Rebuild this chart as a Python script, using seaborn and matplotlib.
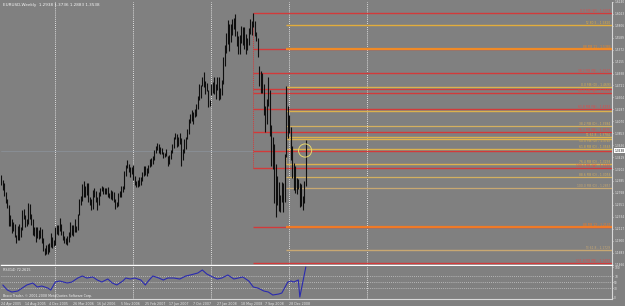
import matplotlib
matplotlib.use("Agg")
import matplotlib.pyplot as plt
import matplotlib.transforms as mtransforms
import numpy as np
import pandas as pd
import seaborn as sns

# ---------------- data (weekly EURUSD, 24 Apr 2005 .. 15 Mar 2009) ----------------
high_2005 = [1.3090, 1.3000, 1.2950, 1.2780, 1.2650, 1.2540, 1.2360, 1.2300, 1.2240, 1.2200,
             1.2000, 1.2170, 1.2210, 1.2140, 1.2450, 1.2470, 1.2370, 1.2300, 1.2586, 1.2560,
             1.2380, 1.2300, 1.2150, 1.2140, 1.2150, 1.2100, 1.2140, 1.2120, 1.1950, 1.1770,
             1.1820, 1.1840, 1.1850, 1.2030, 1.1960, 1.1910]
low_2005 = [1.2920, 1.2820, 1.2720, 1.2580, 1.2500, 1.2160, 1.2170, 1.2030, 1.2080, 1.1960,
            1.1866, 1.1920, 1.1920, 1.1960, 1.2100, 1.2290, 1.2140, 1.2170, 1.2210, 1.2300,
            1.2190, 1.2010, 1.1990, 1.1880, 1.1940, 1.1930, 1.1950, 1.1860, 1.1710, 1.1640,
            1.1660, 1.1650, 1.1700, 1.1780, 1.1760, 1.1800]
high_2006 = [1.2150, 1.2180, 1.2190, 1.2320, 1.2210, 1.2080, 1.1980, 1.1940, 1.1990, 1.2050,
             1.2240, 1.2190, 1.2180, 1.2300, 1.2160, 1.2380, 1.2650, 1.2720, 1.2930, 1.2979,
             1.2900, 1.2940, 1.2950, 1.2690, 1.2660, 1.2820, 1.2860, 1.2800, 1.2700, 1.2780,
             1.2860, 1.2900, 1.2880, 1.2850, 1.2860, 1.2880, 1.2760, 1.2820, 1.2800, 1.2780,
             1.2650, 1.2600, 1.2760, 1.2800, 1.2900, 1.2890, 1.3170, 1.3270, 1.3367, 1.3300,
             1.3230, 1.3240, 1.3280]
low_2006 = [1.1820, 1.2020, 1.2000, 1.2070, 1.2010, 1.1910, 1.1850, 1.1840, 1.1820, 1.1880,
            1.1970, 1.2000, 1.1980, 1.2060, 1.2060, 1.2100, 1.2370, 1.2550, 1.2620, 1.2700,
            1.2690, 1.2730, 1.2600, 1.2540, 1.2450, 1.2480, 1.2700, 1.2600, 1.2460, 1.2550,
            1.2710, 1.2800, 1.2750, 1.2740, 1.2740, 1.2700, 1.2670, 1.2660, 1.2640, 1.2600,
            1.2480, 1.2520, 1.2530, 1.2700, 1.2690, 1.2780, 1.2830, 1.3080, 1.3220, 1.3140,
            1.3060, 1.3110, 1.3010]
high_2007 = [1.3070, 1.2990, 1.3000, 1.3050, 1.3060, 1.3150, 1.3250, 1.3260, 1.3220, 1.3280,
             1.3380, 1.3400, 1.3440, 1.3550, 1.3620, 1.3680, 1.3660, 1.3600, 1.3580, 1.3520,
             1.3500, 1.3560, 1.3440, 1.3450, 1.3540, 1.3650, 1.3780, 1.3850, 1.3840, 1.3790,
             1.3850, 1.3760, 1.3560, 1.3750, 1.3790, 1.3930, 1.4120, 1.4210, 1.4280, 1.4230,
             1.4300, 1.4380, 1.4530, 1.4750, 1.4730, 1.4880, 1.4966, 1.4800, 1.4760, 1.4640,
             1.4450, 1.4750]
low_2007 = [1.2920, 1.2870, 1.2880, 1.2900, 1.2920, 1.2980, 1.3080, 1.3100, 1.3080, 1.3130,
            1.3230, 1.3250, 1.3300, 1.3370, 1.3500, 1.3540, 1.3500, 1.3470, 1.3480, 1.3410,
            1.3420, 1.3430, 1.3260, 1.3300, 1.3380, 1.3500, 1.3590, 1.3740, 1.3610, 1.3620,
            1.3650, 1.3261, 1.3370, 1.3500, 1.3570, 1.3740, 1.3840, 1.4040, 1.4070, 1.4020,
            1.4140, 1.4170, 1.4290, 1.4450, 1.4500, 1.4710, 1.4700, 1.4560, 1.4620, 1.4330,
            1.4340, 1.4550]
high_2008 = [1.4780, 1.4880, 1.4740, 1.4880, 1.4870, 1.4670, 1.4820, 1.5240, 1.5460, 1.5680,
             1.5903, 1.5840, 1.5840, 1.5920, 1.5940, 1.6018, 1.5710, 1.5620, 1.5630, 1.5800,
             1.5790, 1.5780, 1.5650, 1.5580, 1.5770, 1.5920, 1.5900, 1.6038, 1.5900, 1.5700,
             1.5590, 1.5080, 1.4980, 1.4940, 1.4740, 1.4350, 1.4470, 1.4870, 1.4640, 1.4000,
             1.3790, 1.3650, 1.3300, 1.3080, 1.2970, 1.2730, 1.2970, 1.2950, 1.3470, 1.4720,
             1.4350, 1.4180]
low_2008 = [1.4580, 1.4560, 1.4480, 1.4630, 1.4460, 1.4470, 1.4550, 1.4750, 1.5080, 1.5310,
            1.5480, 1.5350, 1.5510, 1.5640, 1.5750, 1.5620, 1.5440, 1.5300, 1.5300, 1.5490,
            1.5460, 1.5390, 1.5300, 1.5360, 1.5460, 1.5660, 1.5630, 1.5780, 1.5620, 1.5520,
            1.5230, 1.4720, 1.4580, 1.4580, 1.4190, 1.3880, 1.4020, 1.4340, 1.3810, 1.3260,
            1.3200, 1.2580, 1.2330, 1.2540, 1.2440, 1.2420, 1.2600, 1.2420, 1.2600, 1.3420,
            1.3770, 1.3850]
high_2009 = [1.3960, 1.3620, 1.3320, 1.3250, 1.3040, 1.3020, 1.2950, 1.2930, 1.2710, 1.2990, 1.3738]
low_2009 = [1.3360, 1.3040, 1.2820, 1.2770, 1.2740, 1.2840, 1.2510, 1.2530, 1.2457, 1.2580, 1.2885]

last_close = 1.3538

# indicator (week index, value)
rsi_week = [1, 4, 7, 11, 14, 17, 21, 24, 27, 31, 33, 36, 39, 44, 47, 51, 54, 57, 61, 64,
            67, 71, 74, 77, 81, 83, 86, 89, 93, 96, 98, 101, 105, 108, 111, 115, 119, 123, 126, 131,
            134, 137, 141, 144, 147, 151, 155, 158, 161, 165, 168, 171, 175, 178, 181, 185, 187, 191, 193, 195,
            198, 199, 203]
rsi_value = [41.0, 24.6, 18.0, 21.3, 31.1, 41.0, 47.5, 34.4, 37.7, 31.1, 24.6, 50.8, 54.1, 47.5, 50.8, 63.9, 70.5, 63.9, 67.2, 57.4,
             50.8, 60.7, 47.5, 41.0, 54.1, 63.9, 60.7, 63.9, 57.4, 41.0, 54.1, 70.5, 63.9, 57.4, 63.9, 63.9, 60.7, 70.5, 73.8, 80.3,
             90.2, 77.0, 67.2, 60.7, 63.9, 73.8, 60.7, 63.9, 67.2, 54.1, 34.4, 31.1, 21.3, 18.0, 8.2, 11.5, 14.8, 50.8, 54.1, 50.8,
             57.4, 1.6, 100.0]
rsi_levels = [70, 50, 30]
rsi_ticks = [100, 70, 50, 30, 0]

# Fibonacci levels (label "" = no label shown on the chart)
red_prices = [1.6038, 1.5384, 1.4947, 1.4656, 1.4584, 1.4293, 1.3875, 1.3529, 1.3220, 1.2147, 1.1493]
red_labels = ["0.0 FIB (W) - 1.6038", "", "38.2 FIB (W) - 1.4947",
              "", "50.0 FIB (W) - 1.4584", "61.8 FIB (W) - 1.4293",
              "76.4 FIB (W) - 1.3875", "", "100.0 FIB (W) - 1.3220",
              "", "161.8 FIB (W) - 1.1493"]
orange_prices = [1.5820, 1.5384, 1.4693, 1.4256, 1.3984, 1.3784, 1.3747, 1.3565, 1.3293,
                 1.3056, 1.2857, 1.2147, 1.1729]
orange_labels = ["T2 80.5 - 1.5820", "88 FIB 11 - 1.5384", "0.0 FIB (D) - 1.4693",
                 "", "38.2 FIB (D) - 1.3984", "T1 61.8 - 1.3784",
                 "50.0 FIB (D) - 1.3747", "61.8 FIB (D) - 1.3565", "76.4 FIB (D) - 1.3293",
                 "88.6 FIB (D) - 1.3056", "100.0 FIB (D) - 1.2857", "88 FIB 12 - 1.2147",
                 "T3 61.8 - 1.1729"]
orange_label_below = [False, False, False, False, False, False, True, False, False,
                      False, False, False, False]
orange_colors = ["#e2ad3c", "#f08a26", "#dcb24e", "#dcb24e", "#d4b060", "#dcb24e", "#dcb24e",
                 "#dcb24e", "#dcb24e", "#d4b060", "#c8a872", "#f07a26", "#c8a872"]
orange_widths = [1.0, 1.6, 1.0, 1.0, 0.9, 1.0, 1.0, 1.0, 1.0, 0.9, 0.9, 1.6, 1.0]

price_ticks = [1.6240, 1.6023, 1.5806, 1.5589, 1.5372, 1.5155, 1.4938, 1.4721, 1.4504, 1.4287,
               1.4070, 1.3853, 1.3636, 1.3419, 1.3202, 1.2985, 1.2768, 1.2551, 1.2334, 1.2117,
               1.1900, 1.1683, 1.1466]
date_ticks = [0, 16, 32, 48, 64, 80, 96, 112, 128, 144, 160, 176, 192]
date_labels = ["24 Apr 2005", "14 Aug 2005", "4 Dec 2005", "26 Mar 2006", "16 Jul 2006",
               "5 Nov 2006", "25 Feb 2007", "17 Jun 2007", "7 Oct 2007", "27 Jan 2008",
               "18 May 2008", "7 Sep 2008", "28 Dec 2008"]
year_weeks = [36, 88, 140, 192, 244]

red_start = 167.5
orange_start = 189.5

# ---------------- drawing ----------------
W, H = 625, 306
BG = "#808080"
sns.set_theme(style="dark", rc={"axes.facecolor": BG, "figure.facecolor": BG,
                                "axes.grid": False})
plt.rcParams['font.family'] = ['DejaVu Sans']

fig = plt.figure(figsize=(W / 100, H / 100), dpi=100)


def px_axes(l, t, r, b):
    return fig.add_axes([l / W, 1 - b / H, (r - l) / W, (b - t) / H])


ax = px_axes(1, 1.5, 612, 265)
ax2 = px_axes(1, 266, 612, 299)

XMIN, XMAX = -0.2, 407.1

high = high_2005 + high_2006 + high_2007 + high_2008 + high_2009
low = low_2005 + low_2006 + low_2007 + low_2008 + low_2009
df = pd.DataFrame({"week": np.arange(len(high)), "high": high, "low": low})

# year separators
for a in (ax, ax2):
    for w in year_weeks:
        a.axvline(w, color="white", lw=0.6, ls=(0, (1, 1.5)), zorder=1)

# bid line
ax.axhline(last_close, color="#8c949c", lw=0.5, zorder=1)

# price bars
ax.vlines(df["week"], df["low"], df["high"], color="#0e0e0e", lw=0.8, zorder=3)

# fib lines
ax.vlines(red_start, red_prices[8], red_prices[0], color="#d23a3a", lw=0.7, ls=(0, (1, 1)), zorder=2)
ax.vlines(orange_start + 0.5, orange_prices[8], orange_prices[2], color="#d4b060", lw=0.7,
          ls=(0, (1, 1)), zorder=2)
for p, lab in zip(red_prices, red_labels):
    ax.hlines(p, red_start, XMAX, color="#d23a3a", lw=1.0, zorder=2)
    if lab:
        ax.text(406, p, lab, ha="right", va="bottom", fontsize=2.2, color="#e04848", zorder=5)
for p, lab, c, w, below in zip(orange_prices, orange_labels, orange_colors, orange_widths,
                               orange_label_below):
    ax.hlines(p, orange_start, XMAX, color=c, lw=w, zorder=2)
    if lab:
        ax.text(406, p, lab, ha="right", va="top" if below else "bottom", fontsize=2.2,
                color=c, zorder=5)

# circle around last price
ax.scatter([202.5], [last_close], s=90, facecolors="none", edgecolors="#e8d86a", lw=0.7, zorder=6)

ax.set_xlim(XMIN, XMAX)
ax.set_ylim(1.1457, 1.6247)
ax.set_xticks([])
ax.yaxis.tick_right()
ax.set_yticks(price_ticks)
ax.set_yticklabels([f"{t:.4f}" for t in price_ticks])
ax.tick_params(axis="y", colors="#e8e8e8", labelsize=2.1, length=1.0, width=0.5, pad=0.6)
for s in ("top", "left"):
    ax.spines[s].set_visible(False)
ax.spines["right"].set_color("#d8d8d8")
ax.spines["right"].set_linewidth(0.8)
ax.spines["bottom"].set_color("white")
ax.spines["bottom"].set_linewidth(1.0)

# current price box
tr = mtransforms.blended_transform_factory(ax.transAxes, ax.transData)
ax.text(1.004, last_close, f"{last_close:.4f}", transform=tr, fontsize=2.1, color="black",
        ha="left", va="center", clip_on=False,
        bbox=dict(boxstyle="square,pad=0.2", fc="white", ec="none"), zorder=7)

# indicator
for lv in rsi_levels:
    ax2.axhline(lv, color="#c8c8c8", lw=0.6, ls=(0, (1, 1.5)), zorder=1)
rsi_df = pd.DataFrame({"week": rsi_week, "rsi": rsi_value})
sns.lineplot(data=rsi_df, x="week", y="rsi", ax=ax2, color="#2a2ab0", lw=0.8, zorder=3)
ax2.set_xlim(XMIN, XMAX)
ax2.set_ylim(-4.9, 103.3)
ax2.set_xlabel("")
ax2.set_ylabel("")
ax2.yaxis.tick_right()
ax2.set_yticks(rsi_ticks)
ax2.set_yticklabels([str(t) for t in rsi_ticks])
ax2.tick_params(axis="y", colors="#e8e8e8", labelsize=2.1, length=1.0, width=0.5, pad=0.6)
ax2.set_xticks(date_ticks)
ax2.set_xticklabels(date_labels, ha="left")
ax2.tick_params(axis="x", colors="#e8e8e8", labelsize=2.3, length=1.5, width=0.5, pad=0.5)
ax2.spines["top"].set_visible(False)
ax2.spines["left"].set_visible(False)
ax2.spines["right"].set_color("#d8d8d8")
ax2.spines["right"].set_linewidth(0.8)
ax2.spines["bottom"].set_color("#d8d8d8")
ax2.spines["bottom"].set_linewidth(0.8)

ax2.text(0.003, 0.93, "RSI(14) 72.2615", transform=ax2.transAxes, fontsize=2.4,
         color="#f0f0f0", ha="left", va="top")
ax2.text(0.003, 0.04, "Broco Trader, \u00a9 2001-2008 MetaQuotes Software Corp.",
         transform=ax2.transAxes, fontsize=2.3, color="#f0f0f0", ha="left", va="bottom")

fig.text(3 / W, 1 - 5 / H, "EURUSD,Weekly  1.2938 1.3736 1.2883 1.3538", fontsize=3.0,
         color="#f4f4f4", ha="left", va="center")

fig.savefig("out.png", dpi=100, facecolor=BG)
